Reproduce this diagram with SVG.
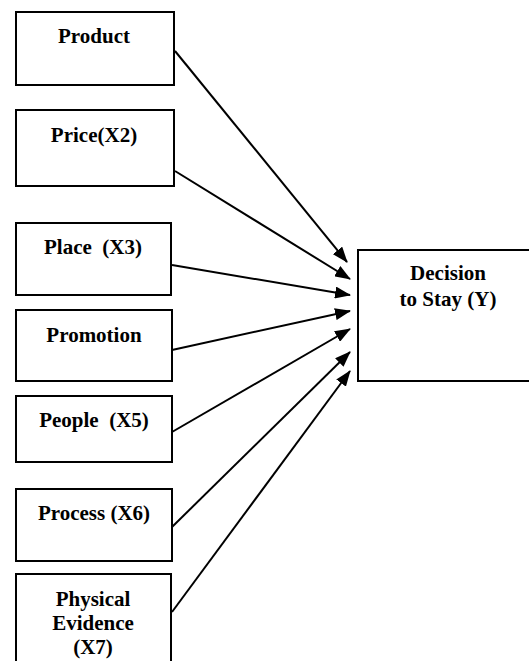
<svg xmlns="http://www.w3.org/2000/svg" width="529" height="661" viewBox="0 0 529 661">
<defs>
<style>
.box{fill:#fff;stroke:#000;stroke-width:2}
.t{font-family:"Liberation Serif","Times New Roman",serif;font-weight:bold;font-size:21px;fill:#000;text-anchor:middle}
.c{stroke:#000;stroke-width:2;fill:none;marker-end:url(#ah)}
</style>
<marker id="ah" viewBox="0 0 16 12" refX="15" refY="6" markerWidth="16" markerHeight="12" markerUnits="userSpaceOnUse" orient="auto">
<path d="M0,0 L16,6 L0,12 z" fill="#000"/>
</marker>
</defs>
<rect width="529" height="661" fill="#fff"/>
<g id="product"><rect class="box" x="16" y="12" width="158" height="73"/><text class="t" x="94" y="43">Product</text></g>
<g id="price"><rect class="box" x="16" y="110" width="158" height="76"/><text class="t" x="94" y="142">Price(X2)</text></g>
<g id="place"><rect class="box" x="16" y="223" width="155" height="72"/><text class="t" x="93" y="254" xml:space="preserve">Place  (X3)</text></g>
<g id="promotion"><rect class="box" x="16" y="310" width="156" height="71"/><text class="t" x="94" y="342">Promotion</text></g>
<g id="people"><rect class="box" x="16" y="396" width="156" height="66"/><text class="t" x="94" y="427" xml:space="preserve">People  (X5)</text></g>
<g id="process"><rect class="box" x="16" y="489" width="156" height="72"/><text class="t" x="94" y="520">Process (X6)</text></g>
<g id="physical"><rect class="box" x="16" y="574" width="155" height="100"/><text class="t" x="93" y="606">Physical</text><text class="t" x="93" y="630">Evidence</text><text class="t" x="93" y="654">(X7)</text></g>
<g id="decision"><rect class="box" x="358" y="250" width="200" height="131"/><text class="t" x="448" y="280">Decision</text><text class="t" x="448" y="306">to Stay (Y)</text></g>
<g id="connectors">
<line class="c" x1="175" y1="51" x2="347" y2="262"/>
<line class="c" x1="175" y1="171" x2="350" y2="279"/>
<line class="c" x1="172" y1="265" x2="350" y2="295"/>
<line class="c" x1="172" y1="350" x2="350" y2="311"/>
<line class="c" x1="172" y1="432" x2="350" y2="329"/>
<line class="c" x1="172" y1="527" x2="350" y2="352"/>
<line class="c" x1="172" y1="612" x2="350" y2="371"/>
</g>
</svg>
